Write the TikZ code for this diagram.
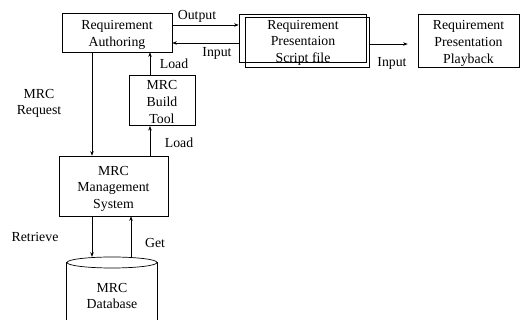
\documentclass[tikz,border=0pt]{standalone}
\usepackage{fontspec}
\setmainfont{Liberation Serif}
\usetikzlibrary{arrows.meta,calc}
% multi-line block text, set a little low inside its frame
\newcommand\blocktext[1]{\raisebox{-2.5pt}[\height][\depth]{\begin{tabular}{@{}c@{}}#1\end{tabular}}}
\begin{document}
\begin{tikzpicture}[x=1pt,y=-1pt,
  every node/.style={font=\fontsize{13.8}{16.8}\selectfont, inner sep=0pt, align=center},
  blk/.style={draw, line width=0.7pt, anchor=center},
  lbl/.style={anchor=center},
  conn/.style={line width=0.6pt, -{Stealth[length=4.5pt,width=3.5pt]}}]
\useasboundingbox (0,0) rectangle (520,320);

% boxes
\node[blk, minimum width=110pt, minimum height=39pt] (auth) at (117,32.5) {\blocktext{Requirement\\Authoring}};
\node[blk, minimum width=127pt, minimum height=48pt] (scriptA) at (302.5,38) {};
\node[blk, minimum width=124pt, minimum height=50pt] (scriptB) at (307,42) {};
\node (script) at (303,40) {\blocktext{Requirement\\Presentaion\\Script file}};
\node[blk, minimum width=101pt, minimum height=53pt] (play) at (468.5,40.5) {\blocktext{Requirement\\Presentation\\Playback}};
\node[blk, minimum width=66pt, minimum height=49pt] (build) at (162,100.5) {\blocktext{MRC\\Build\\Tool}};
\node[blk, minimum width=109pt, minimum height=60pt] (mgmt) at (113.5,186) {\blocktext{MRC\\Management\\System}};

% database cylinder
\node[minimum width=90pt, minimum height=78pt] (db) at (112,296) {MRC\\Database};
\draw[line width=0.7pt] (db.center |- 0,262.5) ellipse [x radius=45pt, y radius=5.5pt];
\draw[line width=0.7pt] (db.west |- 0,262.5) -- (db.west |- 0,340)
      (db.east |- 0,262.5) -- (db.east |- 0,340);

% connectors
\draw[conn] ([yshift=7.5pt]auth.east) -- ([yshift=13pt]scriptA.west);
\draw[conn] ([yshift=-5pt]scriptA.west) -- ([yshift=-10.5pt]auth.east);
\draw[conn, shorten >=10pt] ([yshift=-2pt]scriptB.east) -- ([yshift=-3.5pt]play.west);
\draw[conn] ([xshift=-12pt]build.north) -- ([xshift=-12pt]build.north |- auth.south);
\draw[conn] ([xshift=-12pt]build.south |- mgmt.north) -- ([xshift=-12pt]build.south);
\draw[conn] ([xshift=-25pt]auth.south) -- ([xshift=-25pt]auth.south |- mgmt.north);
\draw[conn] ([xshift=-21.5pt]mgmt.south) -- ([xshift=-21.5pt]mgmt.south |- db.north);
\draw[conn] ([xshift=17.5pt]mgmt.south |- db.north) -- ([xshift=17.5pt]mgmt.south);

% labels
\node[lbl] (lout) at (197,16) {Output};
\node[lbl] (lin1) at (217,53) {Input};
\node[lbl] (lin2) at (392,63) {Input};
\node[lbl] (lload1) at (174,64) {Load};
\node[lbl] (lload2) at (179,143) {Load};
\node[lbl] (lreq) at (39,103.5) {MRC\\Request};
\node[lbl] (lret) at (35,237) {Retrieve};
\node[lbl] (lget) at (155,243) {Get};
\end{tikzpicture}
\end{document}
